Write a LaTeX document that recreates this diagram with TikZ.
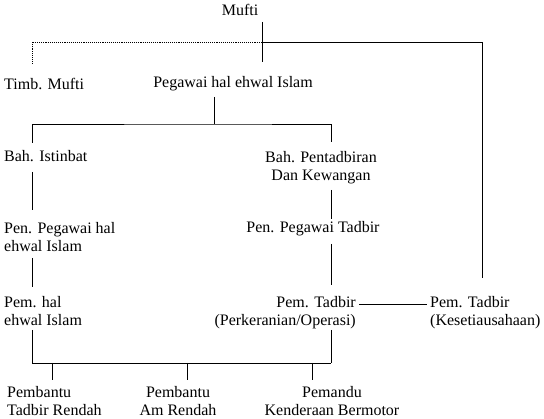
\documentclass[tikz,border=0pt]{standalone}
\usepackage{fontspec}
\setmainfont{Liberation Serif}
\tikzset{
  lbl/.style={inner sep=0pt, font=\fontsize{16}{18}\selectfont},
  link/.style={line width=0.9pt},
  dotlink/.style={line width=0.9pt, densely dotted}
}
\begin{document}
\begin{tikzpicture}[x=1pt,y=-1pt]
  \useasboundingbox (0,0) rectangle (544,419);
  \draw
    (240,16) node[lbl,anchor=base] (mufti){Mufti}
    (4,90) node[lbl,anchor=base west] (timb){Timb. Mufti}
    (233,88) node[lbl,anchor=base] (pegawai){Pegawai hal ehwal Islam}
    (4,162) node[lbl,anchor=base west] (istinbat){Bah. Istinbat}
    (321,181) node[lbl,anchor=base,align=center] (pentadbiran){Bah. Pentadbiran\\Dan Kewangan}
    (4,252) node[lbl,anchor=base west,align=left] (penpeg){Pen. Pegawai hal\\ehwal Islam}
    (313,233) node[lbl,anchor=base] (pentadbir){Pen. Pegawai Tadbir}
    (4,326) node[lbl,anchor=base west,align=left] (pemhal){Pem. hal\\ehwal Islam}
    (356,326) node[lbl,anchor=base east,align=right] (pemtadbir){Pem. Tadbir\\(Perkeranian/Operasi)}
    (430,326) node[lbl,anchor=base west,align=left] (kesetia){Pem. Tadbir\\(Kesetiausahaan)}
    (7,416) node[lbl,anchor=base west,align=left] (pembantuA){Pembantu\\Tadbir Rendah}
    (178,416) node[lbl,anchor=base,align=center] (pembantuB){Pembantu\\Am Rendah}
    (332,416) node[lbl,anchor=base,align=center] (pemandu){Pemandu\\Kenderaan Bermotor};
  % junctions
  \coordinate (mtop) at (262,22);
  \coordinate (mj) at (262,42);
  \coordinate (mbot) at (262,62);
  \coordinate (tj) at (32,63);
  \coordinate (rj) at (482,278);
  \coordinate (ptop) at (214,97);
  \coordinate (pj) at (214,124);
  \coordinate (lj) at (32,143);
  \coordinate (cj) at (331,142);
  \coordinate (bj) at (32,363);
  \coordinate (bk) at (331,363);
  \begin{scope}[link]
    \draw (mtop) -- (mbot);
    \draw[dotlink] (mj) -| (tj);
    \draw (mj) -| (rj);
    \draw (ptop) -- (pj);
    \draw (lj) |- (pj) -| (cj);
    % left column
    \draw (32,172) -- (32,210);
    \draw (32,258) -- (32,287);
    \draw (32,330) -- (bj);
    % middle column
    \draw (331,190) -- (331,219);
    \draw (331,244) -- (331,285);
    \draw (331,330) -- (bk);
    \draw (bj) -- (bk);
    \draw (bj -| 52,0) -- (52,380);
    \draw (bj -| 187,0) -- (187,380);
    \draw (bj -| 312,0) -- (312,380);
    % side link
    \draw (359,304) -- (427,304);
  \end{scope}
\end{tikzpicture}
\end{document}
